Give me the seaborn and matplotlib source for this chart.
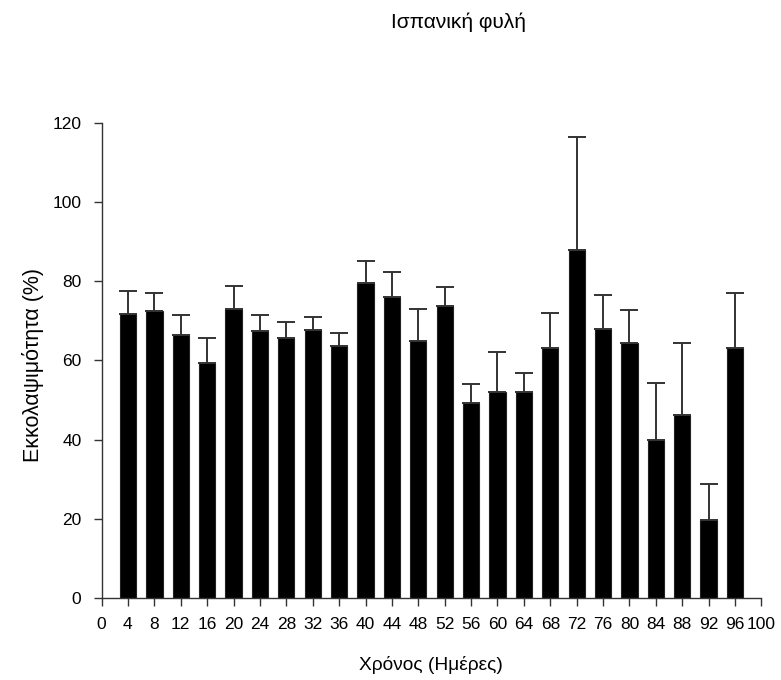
import numpy as np
import pandas as pd
import matplotlib
matplotlib.use("Agg")
import matplotlib.pyplot as plt
import seaborn as sns

days = [4, 8, 12, 16, 20, 24, 28, 32, 36, 40, 44, 48, 52, 56, 60, 64, 68, 72, 76, 80, 84, 88, 92, 96]
hatchability = [71.6, 72.5, 66.3, 59.4, 73.0, 67.4, 65.7, 67.6, 63.5, 79.4, 75.9, 65.0, 73.6,
                49.3, 51.9, 52.0, 63.0, 87.8, 68.0, 64.5, 39.8, 46.1, 19.8, 63.0]
upper = [77.4, 76.9, 71.4, 65.7, 78.8, 71.5, 69.7, 71.0, 66.8, 85.0, 82.3, 72.9, 78.5,
         54.0, 62.0, 56.7, 72.0, 116.5, 76.4, 72.6, 54.3, 64.4, 28.9, 77.1]
err = [u - h for u, h in zip(upper, hatchability)]
xticks = list(range(0, 100, 4)) + [100]
yticks = [0, 20, 40, 60, 80, 100, 120]

sns.set_style("ticks")
plt.rcParams['font.family'] = ['Liberation Sans', 'DejaVu Sans']

df = pd.DataFrame({"day": days, "val": hatchability, "err": err})

fig = plt.figure(figsize=(7.81, 6.8), dpi=100)
ax = fig.add_axes([0.130, 0.1206, 0.845, 0.699])

sns.barplot(data=df, x="day", y="val", native_scale=True, width=0.62,
            color="black", edgecolor="#222222", linewidth=0.8, errorbar=None, ax=ax)
ax.errorbar(df["day"], df["val"], yerr=[np.zeros(len(df)), df["err"]], fmt="none",
            ecolor="#333333", elinewidth=1.4, capsize=6.5, capthick=1.4, zorder=1)

ax.set_xlim(0, 100)
ax.set_ylim(0, 120)
ax.set_xticks(xticks)
ax.set_xticklabels([str(t) for t in xticks])
ax.set_yticks(yticks)
ax.tick_params(axis="both", labelsize=12.5, length=5.5, width=1.0, color="#333333",
               labelcolor="black", direction="out")
ax.tick_params(axis="x", pad=8)
ax.tick_params(axis="y", pad=9)
for s in ["top", "right"]:
    ax.spines[s].set_visible(False)
for s in ["left", "bottom"]:
    ax.spines[s].set_color("#333333")
    ax.spines[s].set_linewidth(1.0)

ax.set_xlabel("Χρόνος (Ημέρες)", fontsize=13.8, color="black", va="center")
ax.xaxis.set_label_coords(0.499, -0.141)
ax.set_ylabel("Εκκολαψιμότητα (%)", fontsize=15.5, color="black", va="center")
ax.yaxis.set_label_coords(-0.104, 0.49)
fig.text(0.587, 1 - 28 / 680, "Ισπανική φυλή", ha="center", va="baseline",
         fontsize=15, color="black")

fig.savefig("out.png", dpi=100)
